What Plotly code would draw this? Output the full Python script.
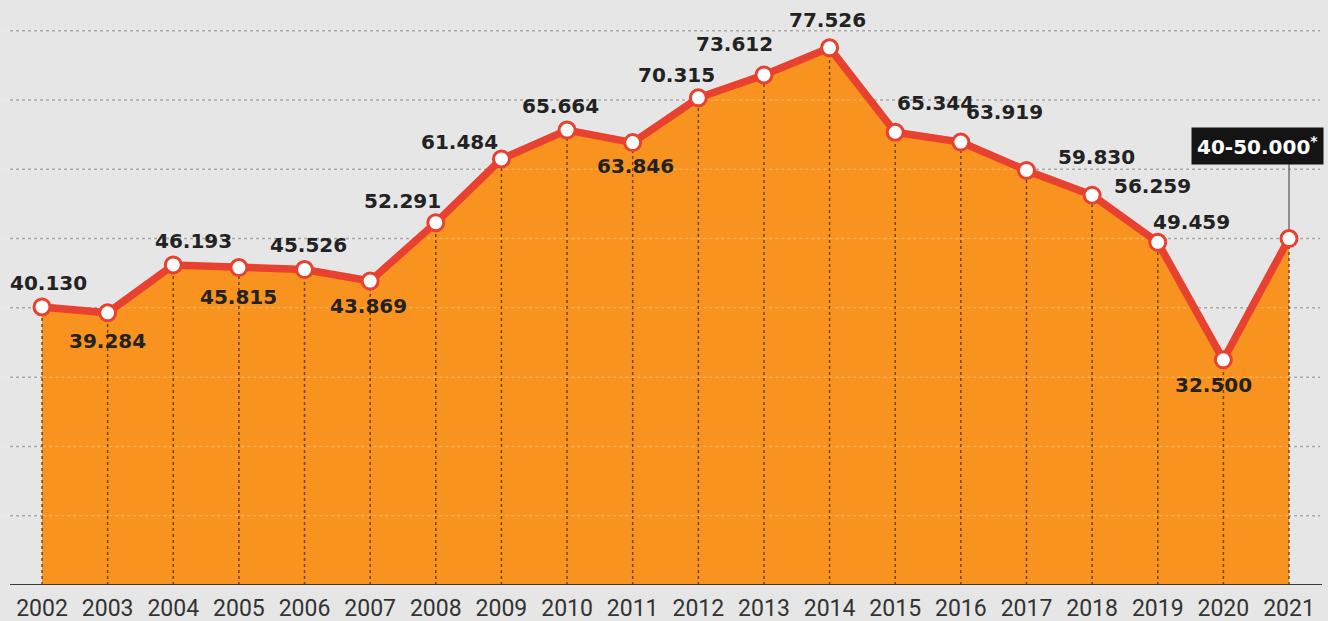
import plotly.graph_objects as go

years = list(range(2002, 2022))
values = [40.130, 39.284, 46.193, 45.815, 45.526, 43.869, 52.291, 61.484, 65.664, 63.846,
          70.315, 73.612, 77.526, 65.344, 63.919, 59.830, 56.259, 49.459, 32.500, 50.000]
labels = ["40.130", "39.284", "46.193", "45.815", "45.526", "43.869", "52.291", "61.484",
          "65.664", "63.846", "70.315", "73.612", "77.526", "65.344", "63.919", "59.830",
          "56.259", "49.459", "32.500", None]
callout_text = "40-50.000<sup>*</sup>"
grid_values = [10, 20, 30, 40, 50, 60, 70, 80]

# label offsets in pixels (style)
label_offsets = [(6, -24), (0, 28), (20, -24), (0, 29), (4, -25), (-2, 25), (-33, -22),
                 (-42, -17), (-7, -24), (3, 23), (-22, -23), (-29, -31), (-2, -28),
                 (40, -29), (44, -30), (70, -13), (60, -9), (34, -20), (-10, 25), None]

BG = "#E6E6E6"
ORANGE = "#F7931E"
RED = "#E8412F"

fig = go.Figure()

# area fill
fig.add_trace(go.Scatter(x=years, y=values, mode="lines", line=dict(width=0, color=ORANGE),
                         fill="tozeroy", fillcolor=ORANGE, hoverinfo="skip", showlegend=False))

# faint grid over area
gx, gy = [], []
for g in grid_values:
    gx += [years[0] - 0.62, years[-1] + 0.47, None]
    gy += [g, g, None]
fig.add_trace(go.Scatter(x=gx, y=gy, mode="lines",
                         line=dict(color="rgba(255,255,255,0.28)", width=1.5, dash="dot"),
                         hoverinfo="skip", showlegend=False))

# vertical dotted drop lines
vx, vy = [], []
for x, v in zip(years, values):
    vx += [x, x, None]
    vy += [0, v, None]
fig.add_trace(go.Scatter(x=vx, y=vy, mode="lines",
                         line=dict(color="rgba(90,55,20,0.85)", width=1.5, dash="dot"),
                         hoverinfo="skip", showlegend=False))

# main line with markers
fig.add_trace(go.Scatter(x=years, y=values, mode="lines+markers",
                         line=dict(color=RED, width=7.5),
                         marker=dict(size=16, color="white", line=dict(color=RED, width=3)),
                         hoverinfo="skip", showlegend=False))

shapes = []
for g in grid_values:
    shapes.append(dict(type="line", xref="paper", yref="y", x0=10 / 1328, x1=1320 / 1328,
                       y0=g, y1=g, layer="below",
                       line=dict(color="#A8A8A8", width=1.5, dash="dot")))
# baseline
shapes.append(dict(type="line", xref="paper", yref="y", x0=10 / 1328, x1=1322 / 1328,
                   y0=0, y1=0, layer="above", line=dict(color="#3A3A3A", width=2)))
# callout leader line
shapes.append(dict(type="line", xref="x", yref="y", x0=years[-1], x1=years[-1],
                   y0=values[-1], y1=61.0, layer="below",
                   line=dict(color="#555555", width=1.2)))

annotations = []
for x, v, lab, off in zip(years, values, labels, label_offsets):
    if lab is None:
        continue
    annotations.append(dict(x=x, y=v, xref="x", yref="y", text="<b>" + lab + "</b>",
                            showarrow=False, xshift=off[0], yshift=-off[1],
                            font=dict(family="DejaVu Sans", size=20, color="#222222"),
                            xanchor="center", yanchor="middle"))
annotations.append(dict(x=2020.52, y=63.36, xref="x", yref="y", text="<b>" + callout_text + "</b>",
                        showarrow=False, bgcolor="#141414", borderpad=5,
                        font=dict(family="DejaVu Sans", size=20, color="white"),
                        xanchor="center", yanchor="middle"))

fig.update_layout(
    width=1328, height=621,
    margin=dict(l=0, r=0, t=0, b=36, autoexpand=False),
    paper_bgcolor=BG, plot_bgcolor=BG,
    shapes=shapes, annotations=annotations,
    xaxis=dict(range=[2001.36, 2021.594], tickvals=years, ticktext=[str(y) for y in years],
               showgrid=False, zeroline=False, showline=False, ticks="",
               tickfont=dict(family="Roboto", size=23, color="#333333"),
               ticklabelstandoff=7, automargin=False, fixedrange=True),
    yaxis=dict(range=[0, 84.43], visible=False, showgrid=False, zeroline=False,
               automargin=False, fixedrange=True),
)

fig.write_html("out.html")
